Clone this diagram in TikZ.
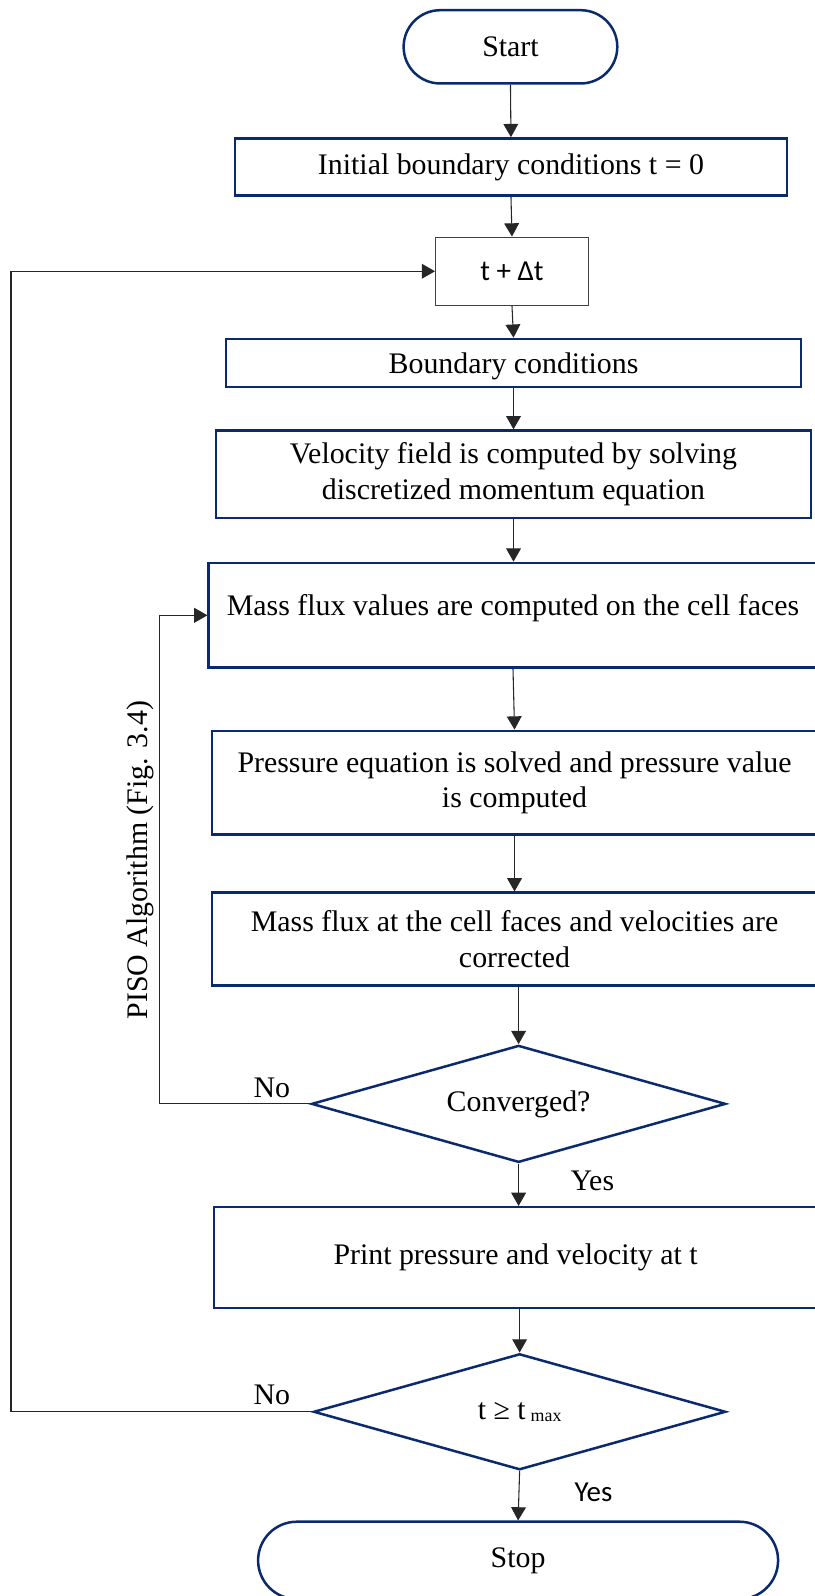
\documentclass[tikz,border=0pt]{standalone}
\usepackage{fontspec}
\setmainfont{Liberation Serif}
\newfontfamily\calibrifont{Carlito}
\usetikzlibrary{arrows.meta, positioning, shapes.geometric, shapes.misc}
\definecolor{boxblue}{HTML}{0A2A6E}
\newcommand{\flowsize}{\fontsize{16.7}{20}\selectfont}
\newcommand{\sanssize}{\calibrifont\fontsize{16.2}{19}\selectfont}

\tikzset{
  procbox/.style={draw=boxblue, line width=1.4pt, rectangle, align=center,
                  font=\flowsize, inner sep=2pt},
  termbox/.style={draw=boxblue, line width=1.4pt, rounded rectangle,
                  font=\flowsize, inner sep=2pt},
  decbox/.style={draw=boxblue, line width=1.4pt, diamond, aspect=3.5,
                 font=\flowsize, inner sep=1pt},
  timebox/.style={draw=black!75, line width=0.7pt, rectangle, font=\sanssize},
  conn/.style={-{Triangle[length=2.6mm, width=2.9mm]}, line width=0.6pt, black!85},
  lbl/.style={font=\flowsize, inner sep=0pt}
}

\begin{document}
\begin{tikzpicture}[x=0.02cm, y=-0.02cm]
  \useasboundingbox (0,0) rectangle (800,1568);

  % Main column of steps
  \node[termbox, minimum width=4.34cm, minimum height=1.44cm] (start) at (501.5,46) {Start};
  \node[procbox, minimum width=10.84cm, minimum height=1.12cm] (init) at (502,164)
    {Initial boundary conditions t = 0};
  \node[timebox, minimum width=3cm, minimum height=1.34cm] (tdt) at (503,266.5) {t + Δt\hspace{0.4em}};
  \node[procbox, minimum width=11.3cm, minimum height=0.94cm, text depth=0pt] (bc) at (504.5,356.5)
    {Boundary conditions};
  \node[procbox, minimum width=11.7cm, minimum height=1.72cm] (vel) at (504.5,466)
    {Velocity field is computed by solving\\discretized momentum equation};
  \node[procbox, minimum width=11.96cm, minimum height=2.06cm, text depth=12pt] (mf) at (504,604.5)
    {Mass flux values are computed on the cell faces};
  \node[procbox, minimum width=11.9cm, minimum height=2.04cm] (pe) at (505.5,769)
    {Pressure equation is solved and pressure value\\is computed};
  \node[procbox, minimum width=11.9cm, minimum height=1.82cm] (mc) at (505.5,922.5)
    {Mass flux at the cell faces and velocities are\\corrected};
  \node[decbox, minimum width=8.14cm, minimum height=2.3cm] (conv) at (509.5,1084.5)
    {Converged?};
  \node[procbox, minimum width=11.86cm, minimum height=1.98cm] (print) at (506.5,1235.5)
    {Print pressure and velocity at t};
  \node[decbox, minimum width=8.1cm, minimum height=2.28cm] (tmax) at (510.5,1387)
    {t ≥ t\,{\fontsize{10}{10}\selectfont\raisebox{-0.3ex}{max}}};
  \node[termbox, minimum width=10.36cm, minimum height=1.52cm] (stop) at (509,1533) {Stop};

  % Side labels
  \node[lbl, rotate=90] (piso) at (138,845) {PISO Algorithm (Fig. 3.4)};
  \node[lbl] (noconv) at (267,1069) {No};
  \node[lbl] (notmax) at (267,1370) {No};
  \node[lbl] (yesconv) at (582,1160) {Yes};
  \node[lbl, font=\sanssize] (yestmax) at (583,1466) {Yes};

  % Downward flow
  \draw[conn] (start.south) -- (init.north);
  \draw[conn] (init.south) -- (tdt.north);
  \draw[conn] (tdt.south) -- (bc.north);
  \draw[conn] (bc.south) -- (vel.north);
  \draw[conn] (vel.south) -- (vel.south |- mf.north);
  \draw[conn] (mf.south) -- (pe.north);
  \draw[conn] (pe.south) -- (mc.north);
  \draw[conn] (mc.south -| conv.north) -- (conv.north);
  \draw[conn] (conv.south) -- (conv.south |- print.north);
  \draw[conn] (print.south -| tmax.north) -- (tmax.north);
  \draw[conn] (tmax.south) -- (stop.north);

  % Loops back
  \draw[conn] (conv.west) -- ++(-148,0) |- (mf.west);
  \draw[conn] (tmax.west) -- ++(-296,0) |- (tdt.west);
\end{tikzpicture}
\end{document}
